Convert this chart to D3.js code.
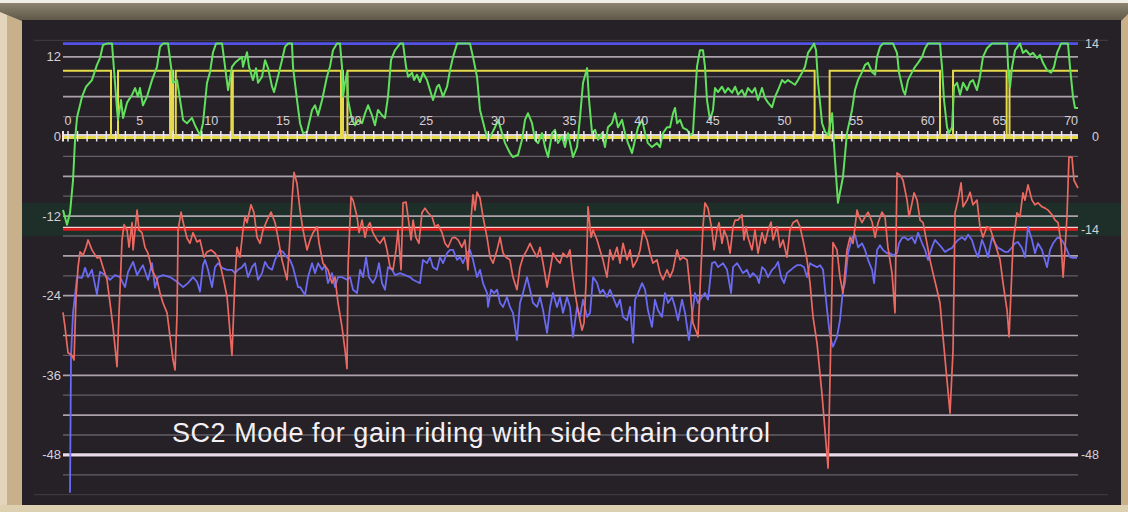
<!DOCTYPE html>
<html>
<head>
<meta charset="utf-8">
<script src="https://cdn.jsdelivr.net/npm/d3@7"></script>
<style>
  html, body { margin: 0; padding: 0; background: #c8b48f; }
  svg { display: block; font-family: "Liberation Sans", Arial, sans-serif; }
</style>
</head>
<body>
<svg id="chart" width="1128" height="512"></svg>
<script>
// time in seconds, level in dB
const gainCurve = [
  [-0.35,-11.1],[-0.07,-13.3],[0.14,-11.5],[0.35,-6.6],[0.49,-0.5],[0.63,2.9],[0.98,6.0],[1.26,7.5],[1.67,8.5],[2.02,10.8],
  [2.23,11.8],[2.44,13.8],[2.72,14],[3.07,14],[3.14,12.0],[3.28,8.1],[3.42,4.0],[3.49,2.5],[3.70,5.5],[3.84,2.8],
  [4.12,5.1],[4.47,6.3],[4.68,7.3],[4.88,6.0],[5.02,7.3],[5.23,4.7],[5.51,6.0],[5.86,8.5],[6.21,10.5],[6.42,13.5],
  [6.63,14],[6.98,14],[7.19,10.5],[7.33,8.1],[7.61,8.5],[7.82,5.5],[8.03,2.5],[8.30,2.0],[8.65,2.8],[8.86,1.7],
  [9.21,0.2],[9.42,2.0],[9.70,8.1],[9.91,9.7],[10.12,12.7],[10.33,14],[10.75,14],[10.96,10.5],[11.17,7.0],[11.44,10.5],
  [11.65,11.1],[11.86,11.5],[12.14,12.0],[12.21,10.5],[12.49,12.7],[12.63,10.5],[12.91,8.5],[13.12,10.3],[13.26,8.1],[13.54,9.0],
  [13.75,11.5],[13.96,10.3],[14.24,7.5],[14.38,6.7],[14.65,9.0],[14.93,11.5],[15.14,13.5],[15.35,14],[15.63,14],[15.70,10.5],
  [15.98,5.5],[16.19,2.0],[16.40,0.5],[16.68,0.7],[17.03,4.0],[17.24,4.7],[17.45,3.2],[17.73,5.5],[18.07,9.0],[18.28,10.5],
  [18.49,13.0],[18.77,14],[18.98,14],[19.12,10.5],[19.19,6.0],[19.33,8.1],[19.47,9.6],[19.54,5.5],[19.82,2.5],[20.03,1.7],
  [20.24,2.5],[20.52,2.0],[20.73,3.5],[20.94,4.7],[21.21,3.2],[21.42,1.7],[21.63,4.0],[21.91,3.2],[22.12,2.8],[22.33,6.0],
  [22.54,11.5],[22.82,13.0],[23.17,14],[23.38,14],[23.59,10.5],[23.73,9.0],[24.01,9.6],[24.15,8.5],[24.35,9.3],[24.56,8.2],
  [24.77,9.6],[25.05,8.5],[25.26,7.0],[25.47,5.5],[25.75,7.5],[25.89,7.8],[26.17,6.0],[26.45,7.5],[26.66,10.0],[26.87,12.0],
  [27.15,14],[28.05,14],[28.26,12.0],[28.54,9.0],[28.75,4.0],[29.10,1.0],[29.31,-0.5],[29.59,0.5],[29.80,1.4],[30.01,2.5],
  [30.29,0.5],[30.50,-1.0],[30.84,-2.5],[31.05,-3.1],[31.40,-2.8],[31.68,-0.5],[31.89,2.5],[32.10,3.5],[32.38,2.0],[32.59,-0.5],
  [32.80,-1.0],[33.08,0.5],[33.29,-1.6],[33.50,-3.1],[33.78,0.5],[33.98,1.0],[34.19,-1.0],[34.47,0.0],[34.68,-1.6],[34.89,0.5],
  [35.24,-3.1],[35.52,-1.6],[35.73,2.9],[35.94,8.1],[36.22,10.3],[36.36,5.5],[36.57,0.5],[36.78,1.0],[36.99,-0.5],[37.26,0.5],
  [37.47,-1.6],[37.68,1.4],[37.96,2.0],[38.17,3.5],[38.38,1.4],[38.66,2.5],[38.87,0.5],[39.08,-1.0],[39.36,-2.5],[39.57,-0.5],
  [39.78,1.4],[40.06,2.5],[40.27,0.5],[40.47,-1.0],[40.75,-1.6],[41.10,-1.0],[41.31,-1.6],[41.52,0.5],[41.80,1.4],[42.01,1.4],
  [42.22,3.5],[42.36,4.3],[42.50,2.0],[42.71,2.5],[42.92,1.3],[43.20,1.0],[43.40,0.2],[43.61,0.5],[43.75,5.5],[43.89,10.5],
  [44.10,13.0],[44.31,13.0],[44.45,10.5],[44.59,5.5],[44.80,2.5],[45.01,4.0],[45.15,7.3],[45.36,6.7],[45.64,7.5],[45.85,6.6],
  [46.06,7.3],[46.34,6.6],[46.55,7.5],[46.76,6.3],[47.03,7.0],[47.24,6.0],[47.45,7.3],[47.73,6.6],[47.94,7.3],[48.15,5.5],
  [48.43,7.3],[48.64,5.8],[48.85,5.1],[49.13,4.4],[49.34,6.0],[49.55,7.0],[49.83,8.5],[50.03,8.1],[50.24,8.5],[50.52,8.1],
  [50.73,7.8],[50.94,8.5],[51.22,9.6],[51.43,10.5],[51.64,12.6],[51.92,13.5],[52.06,14],[52.20,13.0],[52.34,8.1],[52.62,2.0],
  [52.83,0.7],[53.04,0.2],[53.32,3.5],[53.52,-3.5],[53.73,-10.0],[54.08,-6.1],[54.36,0.5],[54.71,4.0],[54.92,7.0],[55.13,8.5],
  [55.41,9.7],[55.62,10.8],[55.83,11.1],[56.11,9.7],[56.32,9.3],[56.46,12.0],[56.66,13.5],[56.87,14],[57.57,14],[57.85,12.6],
  [57.99,9.6],[58.27,7.0],[58.41,6.3],[58.62,8.5],[58.90,9.7],[59.11,10.5],[59.32,11.1],[59.60,12.0],[59.81,13.3],[60.01,14],
  [60.85,14],[60.99,10.5],[61.13,5.5],[61.34,1.4],[61.48,0.5],[61.69,1.4],[61.83,7.5],[62.04,8.1],[62.25,6.3],[62.46,8.1],
  [62.74,7.0],[62.95,8.2],[63.15,8.5],[63.43,7.0],[63.64,9.0],[63.85,12.0],[64.13,13.3],[64.48,14],[65.53,14],[65.60,10.5],
  [65.74,7.5],[65.88,10.5],[66.09,13.0],[66.43,14],[66.64,12.6],[66.85,13.0],[67.13,12.3],[67.34,12.6],[67.62,11.8],[67.83,12.3],
  [68.04,11.1],[68.32,10.0],[68.60,9.6],[68.81,10.5],[69.02,12.6],[69.30,14],[69.78,14],[69.92,10.5],[70.13,6.0],[70.27,4.3],
  [70.48,4.3]
];

const inputLevel = [
  [-0.35,-26.5],[-0.21,-28.7],[0.0,-32.6],[0.28,-33.0],[0.42,-33.7],[0.56,-24.2],[0.70,-19.7],[0.84,-17.4],[1.05,-17.9],[1.26,-16.7],
  [1.40,-15.6],[1.67,-17.1],[2.02,-18.3],[2.23,-18.2],[2.44,-19.7],[2.72,-21.6],[2.93,-25.1],[3.14,-28.7],[3.42,-34.7],[3.56,-26.6],
  [3.77,-15.6],[3.91,-13.3],[4.12,-14.1],[4.26,-16.7],[4.47,-13.0],[4.54,-17.1],[4.82,-11.1],[4.95,-14.1],[5.16,-14.5],[5.37,-16.7],
  [5.58,-17.6],[5.86,-20.1],[6.21,-21.6],[6.42,-23.6],[6.63,-25.1],[6.91,-26.6],[7.12,-30.2],[7.33,-33.7],[7.47,-35.2],[7.61,-26.6],
  [7.68,-14.1],[7.89,-11.4],[8.03,-12.9],[8.30,-15.3],[8.51,-16.1],[8.72,-14.5],[9.00,-15.9],[9.21,-15.6],[9.49,-18.2],[9.70,-17.4],
  [9.98,-17.1],[10.26,-17.6],[10.54,-18.6],[10.82,-21.2],[11.10,-24.2],[11.44,-33.0],[11.65,-21.6],[11.79,-16.7],[12.00,-18.2],[12.21,-14.1],
  [12.35,-12.1],[12.49,-13.0],[12.77,-10.3],[12.98,-11.5],[13.19,-15.2],[13.40,-16.1],[13.61,-14.1],[13.89,-12.6],[14.17,-11.4],[14.45,-13.0],
  [14.65,-15.2],[14.93,-18.6],[15.28,-21.6],[15.42,-17.6],[15.63,-9.6],[15.77,-5.4],[15.98,-7.1],[16.19,-11.1],[16.40,-14.1],[16.68,-17.1],
  [16.89,-15.6],[17.10,-14.5],[17.38,-13.6],[17.52,-16.1],[17.79,-19.1],[18.14,-20.1],[18.42,-22.1],[18.63,-21.2],[18.84,-25.1],[19.12,-28.7],
  [19.33,-32.2],[19.47,-35.0],[19.54,-19.7],[19.75,-9.1],[19.89,-9.6],[20.17,-12.1],[20.31,-14.5],[20.52,-12.6],[20.73,-15.2],[20.87,-13.8],
  [21.07,-13.0],[21.28,-14.5],[21.56,-15.6],[21.77,-16.1],[22.05,-15.2],[22.26,-17.1],[22.47,-19.7],[22.68,-20.1],[22.89,-17.1],[23.03,-14.1],
  [23.24,-20.1],[23.38,-10.0],[23.59,-9.9],[23.73,-12.1],[23.94,-15.6],[24.08,-12.6],[24.28,-15.2],[24.49,-16.1],[24.70,-11.5],[24.91,-10.8],
  [25.12,-11.5],[25.40,-12.1],[25.61,-13.6],[25.82,-13.3],[26.10,-14.5],[26.31,-16.1],[26.52,-16.7],[26.80,-15.3],[27.01,-15.2],[27.22,-15.6],
  [27.49,-16.7],[27.70,-15.6],[27.91,-20.1],[28.12,-12.6],[28.26,-8.8],[28.40,-11.1],[28.54,-8.4],[28.75,-9.3],[28.96,-12.1],[29.24,-15.2],
  [29.45,-18.2],[29.66,-19.1],[29.94,-17.1],[30.15,-15.2],[30.36,-17.6],[30.56,-18.2],[30.84,-18.6],[31.05,-21.2],[31.33,-23.1],[31.54,-19.7],
  [31.75,-18.2],[32.03,-17.1],[32.24,-16.1],[32.45,-17.1],[32.73,-18.2],[32.94,-16.7],[33.15,-19.1],[33.43,-22.7],[33.64,-20.1],[33.84,-17.6],
  [34.12,-18.6],[34.33,-19.1],[34.54,-17.6],[34.82,-18.2],[35.03,-17.1],[35.17,-20.1],[35.38,-23.6],[35.59,-26.2],[35.87,-29.2],[36.01,-28.1],
  [36.15,-22.1],[36.29,-10.6],[36.50,-15.2],[36.64,-14.1],[36.92,-15.6],[37.12,-17.1],[37.33,-18.6],[37.61,-21.2],[37.82,-17.1],[38.03,-18.6],
  [38.31,-16.7],[38.52,-19.1],[38.73,-16.1],[39.01,-18.6],[39.22,-17.1],[39.43,-19.7],[39.71,-18.6],[39.92,-17.1],[40.13,-14.1],[40.41,-15.6],
  [40.61,-17.6],[40.82,-19.1],[41.10,-18.6],[41.31,-20.6],[41.52,-21.6],[41.80,-20.1],[42.01,-21.2],[42.22,-20.1],[42.50,-17.1],[42.71,-18.6],
  [42.92,-18.2],[43.20,-18.6],[43.40,-22.7],[43.61,-28.1],[43.89,-29.7],[43.96,-30.2],[44.10,-23.1],[44.31,-13.6],[44.45,-10.0],[44.66,-10.8],
  [44.94,-14.1],[45.08,-17.1],[45.29,-14.1],[45.43,-13.0],[45.64,-16.1],[45.78,-14.1],[45.99,-15.2],[46.20,-17.6],[46.41,-13.6],[46.55,-12.6],
  [46.76,-12.6],[47.03,-11.8],[47.17,-15.6],[47.31,-13.6],[47.45,-15.2],[47.73,-17.1],[47.94,-14.1],[48.15,-17.6],[48.43,-14.5],[48.64,-16.1],
  [48.85,-14.1],[49.06,-12.9],[49.20,-15.6],[49.48,-13.6],[49.69,-16.7],[49.90,-15.6],[50.17,-18.2],[50.38,-14.1],[50.59,-13.0],[50.87,-12.6],
  [51.08,-13.6],[51.29,-15.6],[51.57,-18.6],[51.78,-22.1],[51.99,-27.2],[52.27,-31.2],[52.62,-39.0],[53.04,-50.0],[53.38,-16.0],[53.66,-17.1],
  [53.87,-21.2],[54.08,-23.6],[54.36,-17.1],[54.57,-15.2],[54.78,-16.1],[55.06,-11.1],[55.20,-12.1],[55.41,-13.0],[55.62,-12.1],[55.83,-11.4],
  [56.11,-12.9],[56.32,-15.2],[56.53,-13.0],[56.80,-11.4],[57.01,-12.1],[57.22,-16.8],[57.50,-20.6],[57.71,-26.6],[57.85,-5.5],[58.06,-5.8],
  [58.27,-6.6],[58.55,-9.6],[58.69,-12.1],[58.90,-10.0],[59.04,-8.5],[59.25,-9.6],[59.46,-12.6],[59.67,-13.0],[59.94,-16.1],[60.15,-18.6],
  [60.36,-20.6],[60.64,-23.1],[60.85,-25.1],[61.06,-30.2],[61.55,-41.7],[61.76,-32.2],[61.90,-11.5],[62.11,-9.6],[62.32,-7.0],[62.46,-10.6],
  [62.74,-9.6],[62.95,-8.4],[63.15,-10.3],[63.43,-9.6],[63.64,-13.6],[63.85,-15.2],[64.13,-13.6],[64.34,-13.8],[64.55,-15.2],[64.83,-17.1],
  [65.04,-18.6],[65.25,-22.1],[65.53,-26.2],[65.67,-30.2],[65.95,-16.1],[66.22,-11.5],[66.43,-12.1],[66.64,-8.5],[66.78,-9.6],[66.99,-7.3],
  [67.27,-9.6],[67.48,-10.3],[67.69,-10.0],[67.97,-10.6],[68.18,-10.8],[68.39,-11.1],[68.67,-11.8],[68.88,-12.6],[69.09,-13.0],[69.30,-16.1],
  [69.44,-21.2],[69.57,-17.1],[69.71,-12.1],[69.85,-3.1],[70.06,-3.1],[70.20,-6.6],[70.48,-7.8]
];

const sideChain = [
  [0.14,-53.7],[0.21,-33.0],[0.35,-26.6],[0.63,-21.2],[0.98,-21.3],[1.19,-19.8],[1.40,-21.2],[1.67,-20.1],[2.02,-23.8],[2.23,-20.4],
  [2.58,-20.9],[2.93,-21.6],[3.28,-20.9],[3.63,-21.2],[3.98,-22.7],[4.19,-20.4],[4.54,-18.9],[4.82,-20.9],[5.02,-20.1],[5.23,-19.4],
  [5.58,-21.6],[5.86,-19.1],[6.07,-22.8],[6.28,-21.2],[6.63,-20.9],[7.12,-21.2],[7.61,-21.9],[8.03,-22.7],[8.37,-22.1],[8.72,-21.2],
  [9.00,-21.9],[9.21,-23.4],[9.42,-19.4],[9.56,-18.6],[9.77,-20.1],[10.05,-22.7],[10.26,-19.7],[10.47,-19.1],[10.75,-19.8],[11.10,-20.1],
  [11.44,-20.1],[11.65,-20.6],[11.86,-20.1],[12.14,-19.7],[12.35,-19.1],[12.56,-21.2],[12.84,-19.7],[13.05,-19.1],[13.26,-21.6],[13.54,-20.6],
  [13.75,-18.9],[13.96,-19.7],[14.24,-20.1],[14.45,-18.6],[14.79,-17.1],[15.00,-17.4],[15.28,-18.2],[15.49,-18.6],[15.70,-19.7],[16.05,-22.7],
  [16.19,-22.7],[16.54,-23.9],[16.75,-21.2],[17.03,-19.1],[17.24,-20.6],[17.45,-19.1],[17.73,-20.1],[17.93,-19.4],[18.14,-22.1],[18.42,-20.6],
  [18.63,-22.7],[18.84,-21.2],[19.12,-21.2],[19.47,-21.6],[19.68,-21.2],[19.89,-23.1],[20.17,-23.6],[20.38,-20.1],[20.59,-21.2],[20.80,-18.2],
  [21.00,-21.2],[21.28,-22.1],[21.49,-21.2],[21.70,-19.1],[21.91,-22.1],[22.12,-23.1],[22.33,-19.7],[22.61,-20.1],[22.82,-20.9],[23.17,-20.6],
  [23.52,-20.9],[23.87,-21.2],[24.08,-21.6],[24.35,-21.9],[24.56,-22.1],[24.77,-18.6],[25.05,-19.1],[25.26,-18.2],[25.47,-19.7],[25.75,-20.1],
  [25.96,-18.2],[26.17,-19.1],[26.45,-17.6],[26.66,-17.1],[26.87,-17.1],[27.15,-18.6],[27.36,-18.2],[27.56,-19.1],[27.84,-17.6],[28.05,-17.1],
  [28.26,-18.6],[28.54,-21.2],[28.75,-20.1],[28.96,-22.1],[29.24,-23.6],[29.31,-25.7],[29.52,-23.1],[29.73,-23.6],[29.94,-23.1],[30.15,-25.1],
  [30.36,-25.7],[30.63,-24.2],[30.84,-25.7],[31.05,-26.6],[31.33,-30.7],[31.54,-25.1],[31.75,-23.6],[32.03,-21.2],[32.24,-23.1],[32.45,-25.1],
  [32.73,-25.7],[32.94,-24.2],[33.15,-26.2],[33.43,-29.6],[33.64,-25.7],[33.84,-23.6],[34.12,-25.7],[34.33,-24.2],[34.54,-26.6],[34.82,-24.2],
  [35.03,-25.7],[35.24,-30.2],[35.52,-25.7],[35.73,-27.2],[35.94,-24.6],[36.22,-27.2],[36.43,-26.6],[36.64,-21.2],[36.92,-22.1],[37.12,-23.6],
  [37.33,-23.1],[37.61,-24.2],[37.82,-23.1],[38.03,-24.2],[38.31,-25.7],[38.52,-24.6],[38.73,-27.2],[39.01,-27.7],[39.22,-25.7],[39.43,-31.1],
  [39.57,-24.6],[39.78,-23.6],[40.06,-22.1],[40.27,-23.1],[40.47,-26.2],[40.75,-28.7],[40.96,-24.6],[41.17,-26.2],[41.45,-27.2],[41.66,-23.6],
  [41.87,-25.1],[42.15,-24.2],[42.36,-25.7],[42.57,-27.7],[42.85,-24.6],[43.06,-26.6],[43.33,-30.7],[43.54,-27.2],[43.75,-23.6],[43.96,-25.1],
  [44.24,-24.2],[44.45,-23.6],[44.66,-24.6],[44.94,-19.1],[45.15,-18.9],[45.36,-19.7],[45.71,-19.1],[45.99,-20.1],[46.27,-23.6],[46.41,-19.7],
  [46.69,-19.1],[46.89,-19.8],[47.10,-20.6],[47.38,-20.1],[47.59,-21.2],[47.80,-20.6],[48.08,-21.2],[48.22,-22.1],[48.43,-19.7],[48.64,-20.1],
  [48.85,-21.2],[49.13,-20.1],[49.34,-19.7],[49.55,-18.9],[49.76,-21.2],[49.97,-22.1],[50.17,-20.6],[50.45,-20.1],[50.66,-19.7],[50.87,-19.4],
  [51.15,-19.4],[51.36,-19.7],[51.57,-21.2],[51.78,-19.1],[51.99,-19.4],[52.27,-19.7],[52.48,-19.4],[52.69,-20.1],[52.97,-26.2],[53.18,-30.2],
  [53.38,-31.7],[53.66,-30.2],[53.87,-27.7],[54.08,-23.1],[54.22,-22.1],[54.43,-17.6],[54.71,-15.3],[54.92,-14.8],[55.13,-16.7],[55.41,-16.1],
  [55.62,-17.1],[55.83,-18.6],[56.11,-20.1],[56.25,-22.1],[56.46,-17.1],[56.66,-16.4],[56.87,-17.1],[57.15,-17.6],[57.36,-17.6],[57.57,-17.9],
  [57.85,-17.6],[57.99,-16.1],[58.20,-15.3],[58.41,-15.2],[58.62,-15.6],[58.90,-15.2],[59.11,-16.1],[59.32,-14.5],[59.60,-16.1],[59.81,-17.1],
  [60.01,-18.6],[60.29,-16.7],[60.50,-15.6],[60.71,-16.1],[60.99,-16.8],[61.20,-17.4],[61.41,-17.1],[61.69,-16.8],[61.90,-16.1],[62.11,-15.6],
  [62.39,-15.2],[62.60,-15.6],[62.81,-14.8],[63.08,-15.6],[63.29,-17.1],[63.50,-18.2],[63.78,-15.6],[63.99,-16.7],[64.20,-18.2],[64.48,-15.2],
  [64.69,-16.1],[64.90,-16.8],[65.18,-17.1],[65.39,-17.4],[65.60,-17.4],[65.88,-16.7],[66.09,-16.1],[66.29,-15.9],[66.57,-16.8],[66.78,-18.2],
  [66.99,-13.6],[67.27,-15.6],[67.48,-17.6],[67.69,-16.1],[67.97,-17.1],[68.11,-18.2],[68.32,-19.7],[68.53,-17.1],[68.74,-16.1],[69.02,-15.3],
  [69.23,-15.3],[69.44,-15.9],[69.71,-17.1],[69.92,-18.2],[70.13,-18.3],[70.41,-18.3]
];

// gate: level holds from each time until the next one
const gateTimes  = [-0.35, 3.0, 3.49, 7.12, 7.26, 7.33, 7.52, 11.4, 11.5, 19.05, 19.12, 19.19, 19.5, 52.1, 53.15, 60.85, 61.76, 65.5, 65.7, 70.48];
const gateLevels = [9.9,   0,   9.9,  0,    9.9,  0,    9.9,  0,    9.9,  0,     9.9,   0,     9.9,  0,    9.9,   0,     9.9,   0,    9.9,  9.9];

const xTickLabels = [0, 5, 10, 15, 20, 25, 30, 35, 40, 45, 50, 55, 60, 65, 70];
const leftTickLabels = [12, 0, -12, -24, -36, -48];
const rightTickLabels = [14, 0, -14, -48];
const gridLevels = [12, 9, 6, 3, -3, -6, -9, -12, -15, -18, -21, -24, -27, -30, -33, -36, -39, -42, -45, -51];
const ceilingLevel = 14, thresholdLevel = -14, floorLevel = -48;
const targetBand = [-10, -15];
const caption = "SC2 Mode for gain riding with side chain control";

var svg = d3.select("#chart"),
    width = +svg.attr("width"),
    height = +svg.attr("height");

var x = d3.scaleLinear().domain([-0.35, 70.48]).range([63, 1078]),
    y = d3.scaleLinear().domain([14, -54]).range([43.6, 494.7]);

var x0 = x.range()[0], x1 = x.range()[1];

// frame
var defs = svg.append("defs");
var grad = defs.append("linearGradient").attr("id", "topband").attr("x1", 0).attr("y1", 0).attr("x2", 0).attr("y2", 1);
grad.append("stop").attr("offset", "0%").attr("stop-color", "#8c8470");
grad.append("stop").attr("offset", "100%").attr("stop-color", "#5c5546");

svg.append("rect").attr("width", width).attr("height", height).attr("fill", "#c7b08a");
svg.append("rect").attr("x", 0).attr("y", 0).attr("width", 7).attr("height", height).attr("fill", "#e2d5b9");
svg.append("polygon")
    .attr("points", "0,3 1128,3 1128,14 1121,21 22,21 0,12")
    .attr("fill", "url(#topband)");
svg.append("rect").attr("x", 0).attr("y", 0).attr("width", width).attr("height", 3).attr("fill", "#f1eee8");
svg.append("rect").attr("x", 22).attr("y", 20).attr("width", 1099).attr("height", 485).attr("fill", "#252127");
svg.append("rect").attr("x", 0).attr("y", 505).attr("width", width).attr("height", 7).attr("fill", "#ddd0b0");

// target band
svg.append("rect")
    .attr("x", 22).attr("width", 1099)
    .attr("y", y(targetBand[0]))
    .attr("height", y(targetBand[1]) - y(targetBand[0]))
    .attr("fill", "#1e2e28");

// panel border lines
svg.selectAll(".border").data([14.5, -54]).enter().append("line")
    .attr("x1", 34).attr("x2", 1108)
    .attr("y1", function(d) { return y(d); }).attr("y2", function(d) { return y(d); })
    .attr("stroke", "#3d383f").attr("stroke-width", 1.2);

// grid
svg.selectAll(".grid").data(gridLevels).enter().append("line")
    .attr("x1", x0).attr("x2", x1)
    .attr("y1", function(d) { return y(d); }).attr("y2", function(d) { return y(d); })
    .attr("stroke", function(d) { return d % 6 === 0 ? "#aba2ac" : "#655e67"; })
    .attr("stroke-width", function(d) { return d % 6 === 0 ? 1.7 : 1.3; });

// special level lines
svg.append("line").attr("x1", x0).attr("x2", x1).attr("y1", y(ceilingLevel)).attr("y2", y(ceilingLevel))
    .attr("stroke", "#5252e6").attr("stroke-width", 2.6);
svg.append("line").attr("x1", x0).attr("x2", x1).attr("y1", y(thresholdLevel)).attr("y2", y(thresholdLevel))
    .attr("stroke", "#d41d1d").attr("stroke-width", 3);
svg.append("line").attr("x1", x0).attr("x2", x1).attr("y1", y(thresholdLevel) - 2).attr("y2", y(thresholdLevel) - 2)
    .attr("stroke", "#f2d0d0").attr("stroke-width", 1.2);
svg.append("line").attr("x1", x0).attr("x2", x1).attr("y1", y(floorLevel)).attr("y2", y(floorLevel))
    .attr("stroke", "#1c181d").attr("stroke-width", 5.5);
svg.append("line").attr("x1", x0).attr("x2", x1).attr("y1", y(floorLevel)).attr("y2", y(floorLevel))
    .attr("stroke", "#eadbea").attr("stroke-width", 3.4);
svg.append("line").attr("x1", x0).attr("x2", x1).attr("y1", y(0) - 1.5).attr("y2", y(0) - 1.5)
    .attr("stroke", "#ddd3dd").attr("stroke-width", 2);

// series
var line = d3.line().x(function(d) { return x(d[0]); }).y(function(d) { return y(d[1]); });

svg.append("path").datum(sideChain).attr("d", line)
    .attr("fill", "none").attr("stroke", "#6a6af2").attr("stroke-width", 1.8).attr("stroke-linejoin", "round");
svg.append("path").datum(inputLevel).attr("d", line)
    .attr("fill", "none").attr("stroke", "#ec6961").attr("stroke-width", 1.7).attr("stroke-linejoin", "round");

var gate = gateTimes.map(function(t, i) { return [t, gateLevels[i]]; });
svg.append("path").datum(gate).attr("d", line.curve(d3.curveStepAfter))
    .attr("fill", "none").attr("stroke", "#e6da4a").attr("stroke-width", 2);
line.curve(d3.curveLinear);
svg.append("line").attr("x1", x0).attr("x2", x1).attr("y1", y(0) + 1).attr("y2", y(0) + 1)
    .attr("stroke", "#e6da4a").attr("stroke-width", 3);

svg.append("path").datum(gainCurve).attr("d", line)
    .attr("fill", "none").attr("stroke", "#60e05c").attr("stroke-width", 2).attr("stroke-linejoin", "round");

// time ticks along the 0 dB line
var minorTicks = d3.range(0, 106).map(function(k) { return k * 2 / 3; });
svg.selectAll(".tick").data(minorTicks).enter().append("line")
    .attr("x1", function(d) { return x(d); }).attr("x2", function(d) { return x(d); })
    .attr("y1", y(0) - 5.5).attr("y2", y(0) + 5)
    .attr("stroke", "#ece6ec").attr("stroke-width", 1.5);
svg.append("line").attr("x1", x0).attr("x2", x0).attr("y1", y(0) - 5.5).attr("y2", y(0) + 5)
    .attr("stroke", "#ece6ec").attr("stroke-width", 2);

svg.selectAll(".xlabel").data(xTickLabels).enter().append("text")
    .attr("x", function(d) { return x(d); })
    .attr("y", y(0) - 11)
    .attr("text-anchor", "middle")
    .attr("font-size", 12.5)
    .attr("fill", "#d6cfd6")
    .text(function(d) { return d; });

svg.selectAll(".ylabel").data(leftTickLabels).enter().append("text")
    .attr("x", 61)
    .attr("y", function(d) { return y(d); })
    .attr("dy", "0.35em")
    .attr("text-anchor", "end")
    .attr("font-size", 13)
    .attr("fill", "#d6cfd6")
    .text(function(d) { return d; });

svg.selectAll(".rlabel").data(rightTickLabels).enter().append("text")
    .attr("x", 1099)
    .attr("y", function(d) { return y(d); })
    .attr("dy", "0.35em")
    .attr("text-anchor", "end")
    .attr("font-size", 12.5)
    .attr("fill", "#d6cfd6")
    .text(function(d) { return d; });

svg.append("text")
    .attr("x", 172).attr("y", 442)
    .attr("font-size", 27)
    .attr("fill", "#f3eff3")
    .attr("textLength", 598)
    .attr("lengthAdjust", "spacing")
    .text(caption);
</script>
</body>
</html>
